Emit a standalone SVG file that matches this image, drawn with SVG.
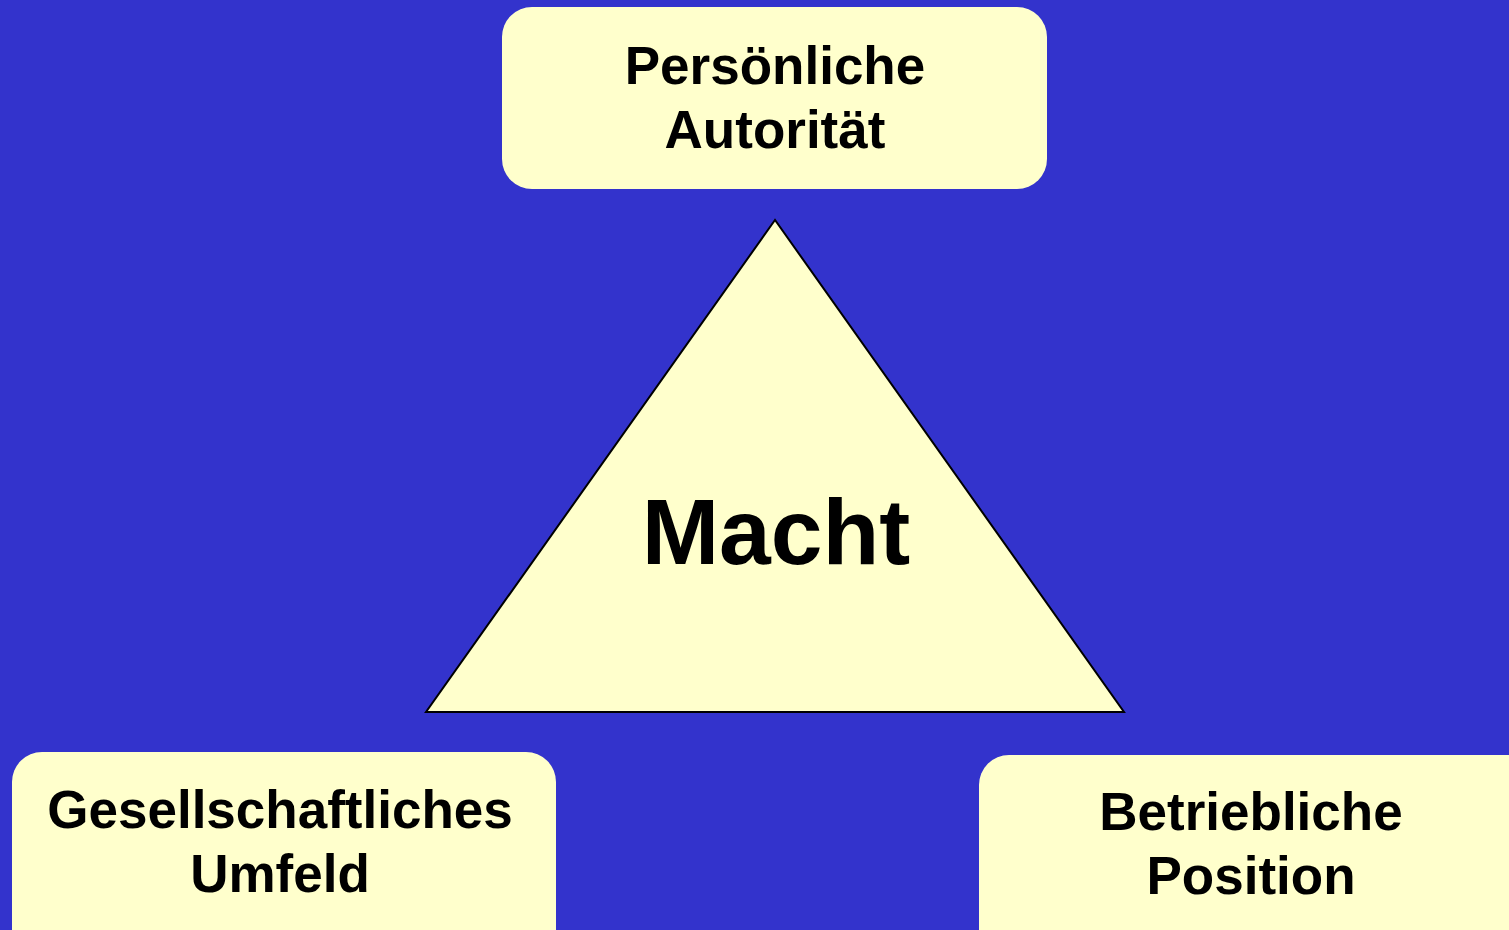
<svg xmlns="http://www.w3.org/2000/svg" width="1509" height="930" viewBox="0 0 1509 930">
<style>
.box{fill:#FFFFCC;stroke:none}
.t{font-family:"Liberation Sans",Arial,sans-serif;font-weight:bold;fill:#000;text-anchor:middle}
.lbl{font-size:53px}
</style>
<rect width="1509" height="930" fill="#3333CC"/>
<g id="connectors"></g>
<g id="macht">
<polygon points="775,220 426,712 1124,712" fill="#FFFFCC" stroke="#000" stroke-width="2"/>
<text class="t" x="776" y="564" font-size="93">Macht</text>
</g>
<g id="persoenliche-autoritaet">
<rect class="box" x="502" y="7" width="545" height="182" rx="30"/>
<text class="t lbl" x="775" y="84">Persönliche</text>
<text class="t lbl" x="775" y="148">Autorität</text>
</g>
<g id="gesellschaftliches-umfeld">
<rect class="box" x="12" y="752" width="544" height="210" rx="30"/>
<text class="t lbl" x="280" y="828">Gesellschaftliches</text>
<text class="t lbl" x="280" y="892">Umfeld</text>
</g>
<g id="betriebliche-position">
<rect class="box" x="979" y="755" width="560" height="210" rx="30"/>
<text class="t lbl" x="1251" y="830">Betriebliche</text>
<text class="t lbl" x="1251" y="894">Position</text>
</g>
</svg>
